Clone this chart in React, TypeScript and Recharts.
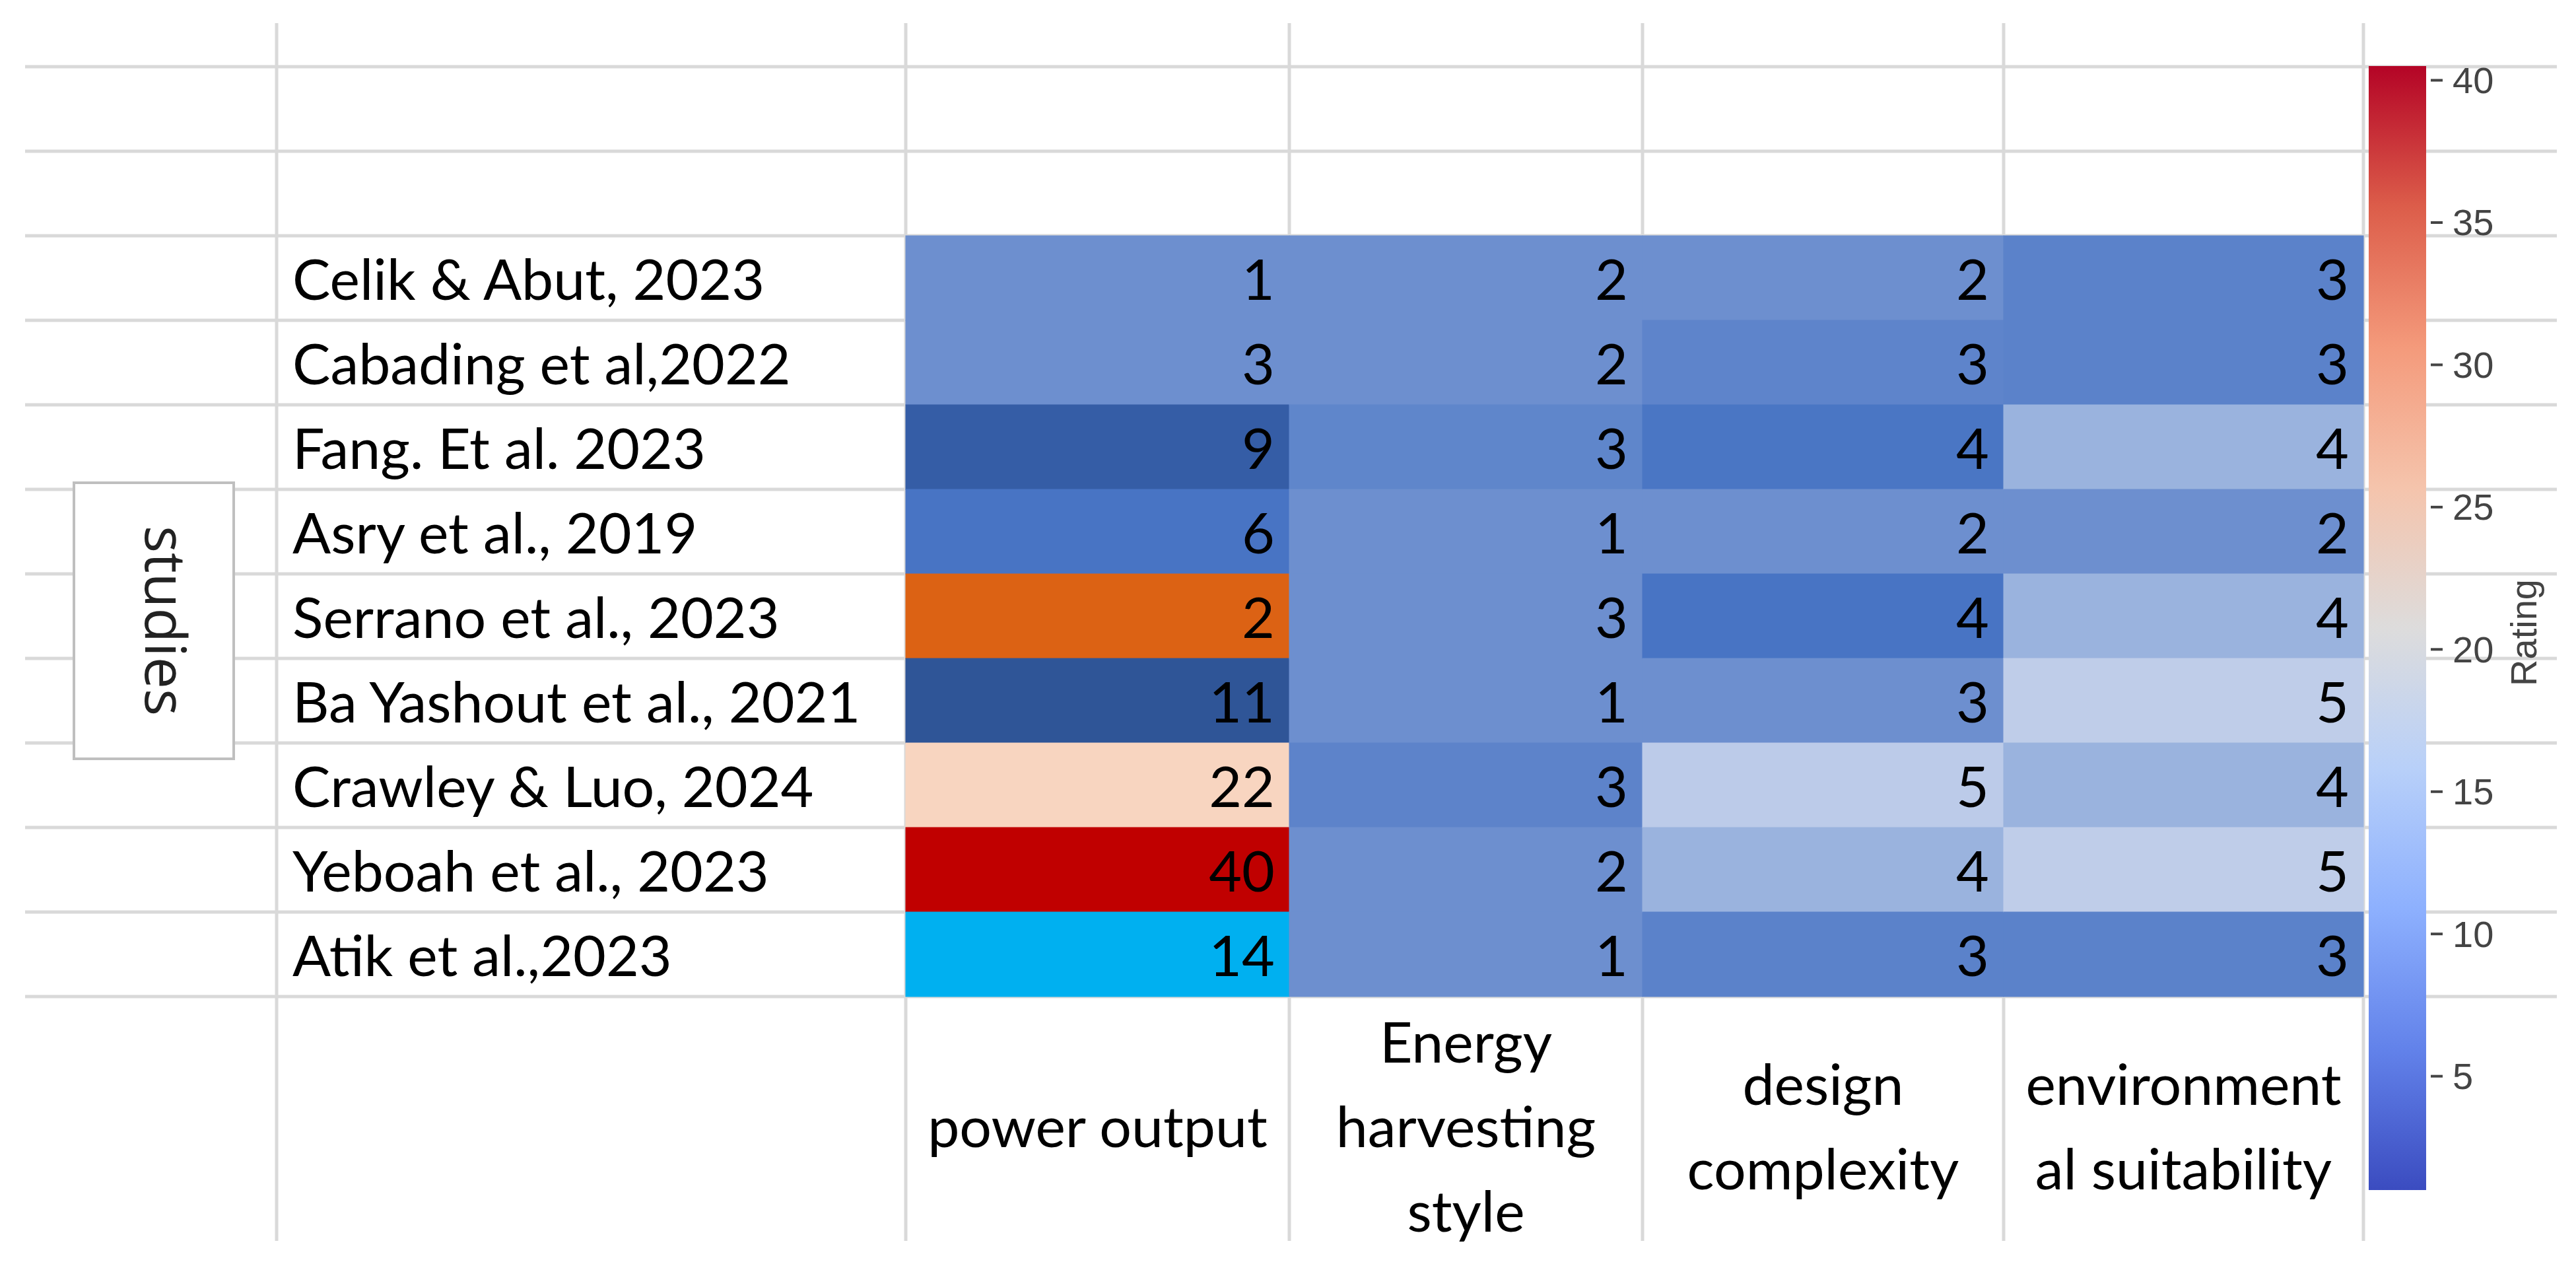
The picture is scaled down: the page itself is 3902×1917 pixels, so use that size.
import React from "react";
import {
  Bar,
  BarChart,
  ReferenceLine,
  Scatter,
  ScatterChart,
  XAxis,
  YAxis,
} from "recharts";

const studies = [
  "Celik & Abut, 2023",
  "Cabading et al,2022",
  "Fang. Et al. 2023",
  "Asry et al., 2019",
  "Serrano et al., 2023",
  "Ba Yashout et al., 2021",
  "Crawley & Luo, 2024",
  "Yeboah et al., 2023",
  "Atik et al.,2023",
];

// header cells wrap the way the spreadsheet wrapped them
const criteriaLines = [
  ["power output"],
  ["Energy", "harvesting", "style"],
  ["design", "complexity"],
  ["environment", "al suitability"],
];

const powerOutput = [1, 3, 9, 6, 2, 11, 22, 40, 14];
const harvestingStyle = [2, 2, 3, 1, 3, 1, 3, 2, 1];
const designComplexity = [2, 3, 4, 2, 4, 3, 5, 4, 3];
const environmentalSuitability = [3, 3, 4, 2, 4, 5, 4, 5, 3];

const ratingTicks = [5, 10, 15, 20, 25, 30, 35, 40];
const ratingRange = [1, 40.5];

// cell fills were set by hand in the sheet, they do not follow the colour bar
const powerOutputFill = ["#6d8fcf", "#6d8fcf", "#355da6", "#4874c4", "#dc6214", "#2f5597", "#f8d5c0", "#c00000", "#00b0f0"];
const harvestingFill = ["#6d8fcf", "#6d8fcf", "#5f86cb", "#6d8fcf", "#6d8fcf", "#6d8fcf", "#5d83ca", "#6d8fcf", "#6d8fcf"];
const designFill = ["#6d8fcf", "#5e84cb", "#4a76c4", "#6d8fcf", "#4874c4", "#6d8fcf", "#bccbe9", "#9ab3de", "#5b82ca"];
const environmentFill = ["#5b82ca", "#5b82ca", "#9ab3de", "#6d8fcf", "#9ab3de", "#bfcde9", "#9ab3de", "#bfcde9", "#5b82ca"];

const coolwarm = [
  { offset: "0%", color: "#b40426" },
  { offset: "12.5%", color: "#dc5d4a" },
  { offset: "25%", color: "#f49a7b" },
  { offset: "37.5%", color: "#f5c4ac" },
  { offset: "50%", color: "#dddcdc" },
  { offset: "62.5%", color: "#b8d0f9" },
  { offset: "75%", color: "#8db0fe" },
  { offset: "87.5%", color: "#6282ea" },
  { offset: "100%", color: "#3b4cc0" },
];

// layout, in page pixels
const W = 3902;
const H = 1917;
const PLOT_LEFT = 1372;
const PLOT_TOP = 357;
const ROW_H = 128;
const columnWidths = [581, 535, 547, 545];
const LABEL_LEFT = 443;
const FONT = "Lato, 'Liberation Sans', sans-serif";
const GRID = "#d9d9d9";

const plotWidth = columnWidths.reduce((a, b) => a + b, 0);
const plotBottom = PLOT_TOP + ROW_H * studies.length;
const columnEdges = columnWidths.reduce<number[]>((acc, w) => [...acc, acc[acc.length - 1] + w], [0]);
const columnCenters = columnWidths.map((w, i) => columnEdges[i] + w / 2);
const rowCenters = studies.map((_, i) => i + 0.5);

const series = [powerOutput, harvestingStyle, designComplexity, environmentalSuitability];
const fills = [powerOutputFill, harvestingFill, designFill, environmentFill];
const cells = series.flatMap((values, col) =>
  values.map((value, row) => ({ x: columnCenters[col], y: row + 0.5, value, col, row }))
);

// x axis is in pixels, y axis is in rows
const toX = (px: number) => px - PLOT_LEFT;
const toY = (px: number) => (px - PLOT_TOP) / ROW_H;
const gridX0 = toX(38);
const gridX1 = toX(3873);
const gridY0 = toY(35);
const gridY1 = toY(1879);
const hLines = [-2, -1, ...studies.map((_, i) => i), studies.length];
const vLines = [toX(419), ...columnEdges];

const CellShape = (props: any) => {
  const { cx, cy, payload } = props;
  const w = columnWidths[payload.col];
  return (
    <g>
      <rect
        x={cx - w / 2 - 0.5}
        y={cy - ROW_H / 2 - 0.5}
        width={w + 1}
        height={ROW_H + 1}
        fill={fills[payload.col][payload.row]}
      />
      <text
        x={cx + w / 2 - 22}
        y={cy + 33}
        textAnchor="end"
        fontFamily={FONT}
        fontSize={86}
        fill="#000"
      >
        {payload.value}
      </text>
    </g>
  );
};

const StudyTick = (props: any) => {
  const { x, y, payload } = props;
  const idx = rowCenters.indexOf(payload.value);
  return (
    <text
      x={x + LABEL_LEFT - PLOT_LEFT}
      y={y + 33}
      textAnchor="start"
      fontFamily={FONT}
      fontSize={86}
      fill="#000"
    >
      {studies[idx]}
    </text>
  );
};

const CriteriaTick = (props: any) => {
  const { x, y, payload } = props;
  const lines = criteriaLines[columnCenters.indexOf(payload.value)] || [];
  const mid = (lines.length - 1) / 2;
  return (
    <text textAnchor="middle" fontFamily={FONT} fontSize={86} fill="#000">
      {lines.map((line, i) => (
        <tspan key={line} x={x} y={y + 228 + (i - mid) * 128}>
          {line}
        </tspan>
      ))}
    </text>
  );
};

const RatingTick = (props: any) => {
  const { x, y, payload } = props;
  return (
    <g>
      <line x1={x + 7} x2={x + 25} y1={y} y2={y} stroke="#444" strokeWidth={4} />
      <text
        x={x + 40}
        y={y}
        dominantBaseline="central"
        fontFamily="'Liberation Sans', Arial, sans-serif"
        fontSize={56}
        fill="#444"
      >
        {payload.value}
      </text>
    </g>
  );
};

const RatingLabel = (props: any) => {
  const vb = props.viewBox || { x: 175, y: 100, width: 227, height: 1702 };
  const x = vb.x + 147;
  const y = vb.y + vb.height / 2 + 7;
  return (
    <text
      x={x}
      y={y}
      transform={`rotate(-90 ${x} ${y})`}
      textAnchor="middle"
      dominantBaseline="central"
      fontFamily="'Liberation Sans', Arial, sans-serif"
      fontSize={56}
      fill="#444"
    >
      Rating
    </text>
  );
};

function Heatmap() {
  return (
    <ScatterChart
      width={W}
      height={H}
      margin={{ top: PLOT_TOP, right: W - PLOT_LEFT - plotWidth, bottom: H - plotBottom - 370, left: 0 }}
    >
      <XAxis
        type="number"
        dataKey="x"
        domain={[0, plotWidth]}
        ticks={columnCenters}
        interval={0}
        height={370}
        axisLine={false}
        tickLine={false}
        tickSize={0}
        tickMargin={0}
        tick={<CriteriaTick />}
      />
      <YAxis
        type="number"
        dataKey="y"
        domain={[0, studies.length]}
        reversed
        ticks={rowCenters}
        interval={0}
        width={PLOT_LEFT}
        axisLine={false}
        tickLine={false}
        tickSize={0}
        tickMargin={0}
        tick={<StudyTick />}
      />
      {hLines.map((r) => (
        <ReferenceLine
          key={`h${r}`}
          segment={[
            { x: gridX0, y: r },
            { x: gridX1, y: r },
          ]}
          stroke={GRID}
          strokeWidth={5}
          ifOverflow="visible"
        />
      ))}
      {vLines.map((c) => (
        <ReferenceLine
          key={`v${c}`}
          segment={[
            { x: c, y: gridY0 },
            { x: c, y: gridY1 },
          ]}
          stroke={GRID}
          strokeWidth={5}
          ifOverflow="visible"
        />
      ))}
      <Scatter data={cells} shape={<CellShape />} isAnimationActive={false} />
    </ScatterChart>
  );
}

function ColorBar() {
  return (
    <BarChart
      width={402}
      height={H}
      data={[{ name: "Rating", range: ratingRange }]}
      margin={{ top: 100, right: 0, bottom: 115, left: 88 }}
      barCategoryGap={0}
    >
      <defs>
        <linearGradient id="coolwarm" x1="0" y1="0" x2="0" y2="1">
          {coolwarm.map((s) => (
            <stop key={s.offset} offset={s.offset} stopColor={s.color} />
          ))}
        </linearGradient>
      </defs>
      <XAxis dataKey="name" hide />
      <YAxis
        orientation="right"
        type="number"
        domain={ratingRange}
        ticks={ratingTicks}
        interval={0}
        width={227}
        axisLine={false}
        tickLine={false}
        tickSize={0}
        tickMargin={0}
        tick={<RatingTick />}
        label={<RatingLabel />}
      />
      <Bar dataKey="range" fill="url(#coolwarm)" isAnimationActive={false} />
    </BarChart>
  );
}

export default function App() {
  return (
    <div style={{ position: "absolute", left: 0, top: 0, width: W, height: H, background: "#fff" }}>
      <Heatmap />
      <div style={{ position: "absolute", left: 3500, top: 0 }}>
        <ColorBar />
      </div>
      <div
        style={{
          position: "absolute",
          left: 110,
          top: 729,
          width: 246,
          height: 422,
          boxSizing: "border-box",
          border: "4px solid #bfbfbf",
          background: "#fff",
          display: "flex",
          alignItems: "center",
          justifyContent: "center",
          paddingLeft: 40,
        }}
      >
        <span
          style={{
            writingMode: "vertical-rl",
            fontFamily: "'Open Sans', sans-serif",
            fontSize: 86,
            color: "#222",
            lineHeight: 1,
          }}
        >
          studies
        </span>
      </div>
    </div>
  );
}
